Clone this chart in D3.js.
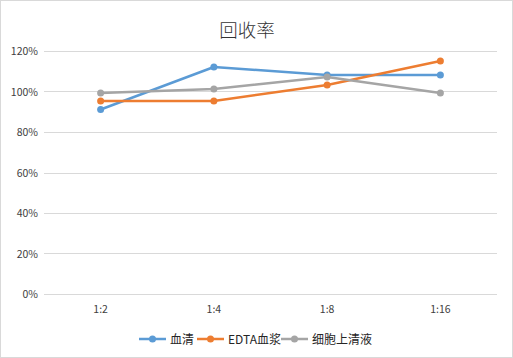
<!DOCTYPE html>
<html>
<head>
<meta charset="utf-8">
<script src="https://cdn.jsdelivr.net/npm/d3@7"></script>
<style>
  body { margin: 0; background: #fff; }
  svg { display: block; }
</style>
</head>
<body>
<svg width="513" height="358"></svg>
<script>
// data
var categories = ['1:2', '1:4', '1:8', '1:16'];
var serum = [0.911, 1.121, 1.081, 1.081];
var edtaPlasma = [0.953, 0.953, 1.032, 1.151];
var supernatant = [0.993, 1.012, 1.072, 0.993];
var yTicks = [0, 0.2, 0.4, 0.6, 0.8, 1.0, 1.2];

var seriesNames = ['血清', 'EDTA血浆', '细胞上清液'];
var seriesValues = [serum, edtaPlasma, supernatant];
var colors = ['#5b9bd5', '#ed7d31', '#a5a5a5'];

var font = '"Microsoft YaHei", "Noto Sans CJK SC", sans-serif';
var svg = d3.select('svg');

// outer frame
svg.append('rect')
    .attr('x', 0.5).attr('y', 0.5)
    .attr('width', 512).attr('height', 357)
    .attr('fill', '#fff')
    .attr('stroke', '#d9d9d9');

// plot area (note: "top" is taken by window.top, so use plot* names)
var plotLeft = 44, plotRight = 497, plotTop = 51, plotBottom = 294;

var x = d3.scaleBand().domain(categories).range([plotLeft, plotRight]);
var y = d3.scaleLinear().domain([0, 1.2]).range([plotBottom, plotTop]);

// gridlines
svg.append('g').selectAll('line')
    .data(yTicks)
    .enter()
    .append('line')
    .attr('x1', plotLeft).attr('x2', plotRight)
    .attr('y1', function (d) { return Math.round(y(d)) + 0.5; })
    .attr('y2', function (d) { return Math.round(y(d)) + 0.5; })
    .attr('stroke', '#d9d9d9')
    .attr('stroke-width', 1);

// y labels
svg.append('g').selectAll('text')
    .data(yTicks)
    .enter()
    .append('text')
    .attr('x', 38)
    .attr('y', function (d) { return y(d) + 4; })
    .attr('text-anchor', 'end')
    .attr('font-family', font)
    .attr('font-size', 10.5)
    .attr('fill', '#404040')
    .text(d3.format('.0%'));

// x labels
svg.append('g').selectAll('text')
    .data(categories)
    .enter()
    .append('text')
    .attr('x', function (d) { return x(d) + x.bandwidth() / 2; })
    .attr('y', 313)
    .attr('text-anchor', 'middle')
    .attr('font-family', font)
    .attr('font-size', 10.5)
    .attr('fill', '#404040')
    .text(function (d) { return d; });

// title
svg.append('text')
    .attr('x', 247).attr('y', 37)
    .attr('text-anchor', 'middle')
    .attr('font-family', font)
    .attr('font-size', 18.5)
    .attr('font-weight', 300)
    .attr('fill', '#333333')
    .text('回收率');

var line = d3.line()
    .x(function (d, i) { return x(categories[i]) + x.bandwidth() / 2; })
    .y(function (d) { return y(d); });

seriesValues.forEach(function (vals, s) {
    var g = svg.append('g');
    g.append('path')
        .attr('d', line(vals))
        .attr('fill', 'none')
        .attr('stroke', colors[s])
        .attr('stroke-width', 2.5)
        .attr('stroke-linejoin', 'round')
        .attr('stroke-linecap', 'round');
    g.selectAll('circle')
        .data(vals)
        .enter()
        .append('circle')
        .attr('cx', function (d, i) { return x(categories[i]) + x.bandwidth() / 2; })
        .attr('cy', function (d) { return y(d); })
        .attr('r', 3.5)
        .attr('fill', colors[s]);
});

// legend
var legendX = [139, 197, 281];
var legendY = 339;
seriesNames.forEach(function (name, s) {
    var lx = legendX[s];
    svg.append('line')
        .attr('x1', lx).attr('x2', lx + 27)
        .attr('y1', legendY).attr('y2', legendY)
        .attr('stroke', colors[s])
        .attr('stroke-width', 2.5);
    svg.append('circle')
        .attr('cx', lx + 13.5).attr('cy', legendY)
        .attr('r', 3.5)
        .attr('fill', colors[s]);
    svg.append('text')
        .attr('x', lx + 31).attr('y', legendY + 4.5)
        .attr('font-family', font)
        .attr('font-size', 12)
        .attr('fill', '#262626')
        .text(name);
});
</script>
</body>
</html>
